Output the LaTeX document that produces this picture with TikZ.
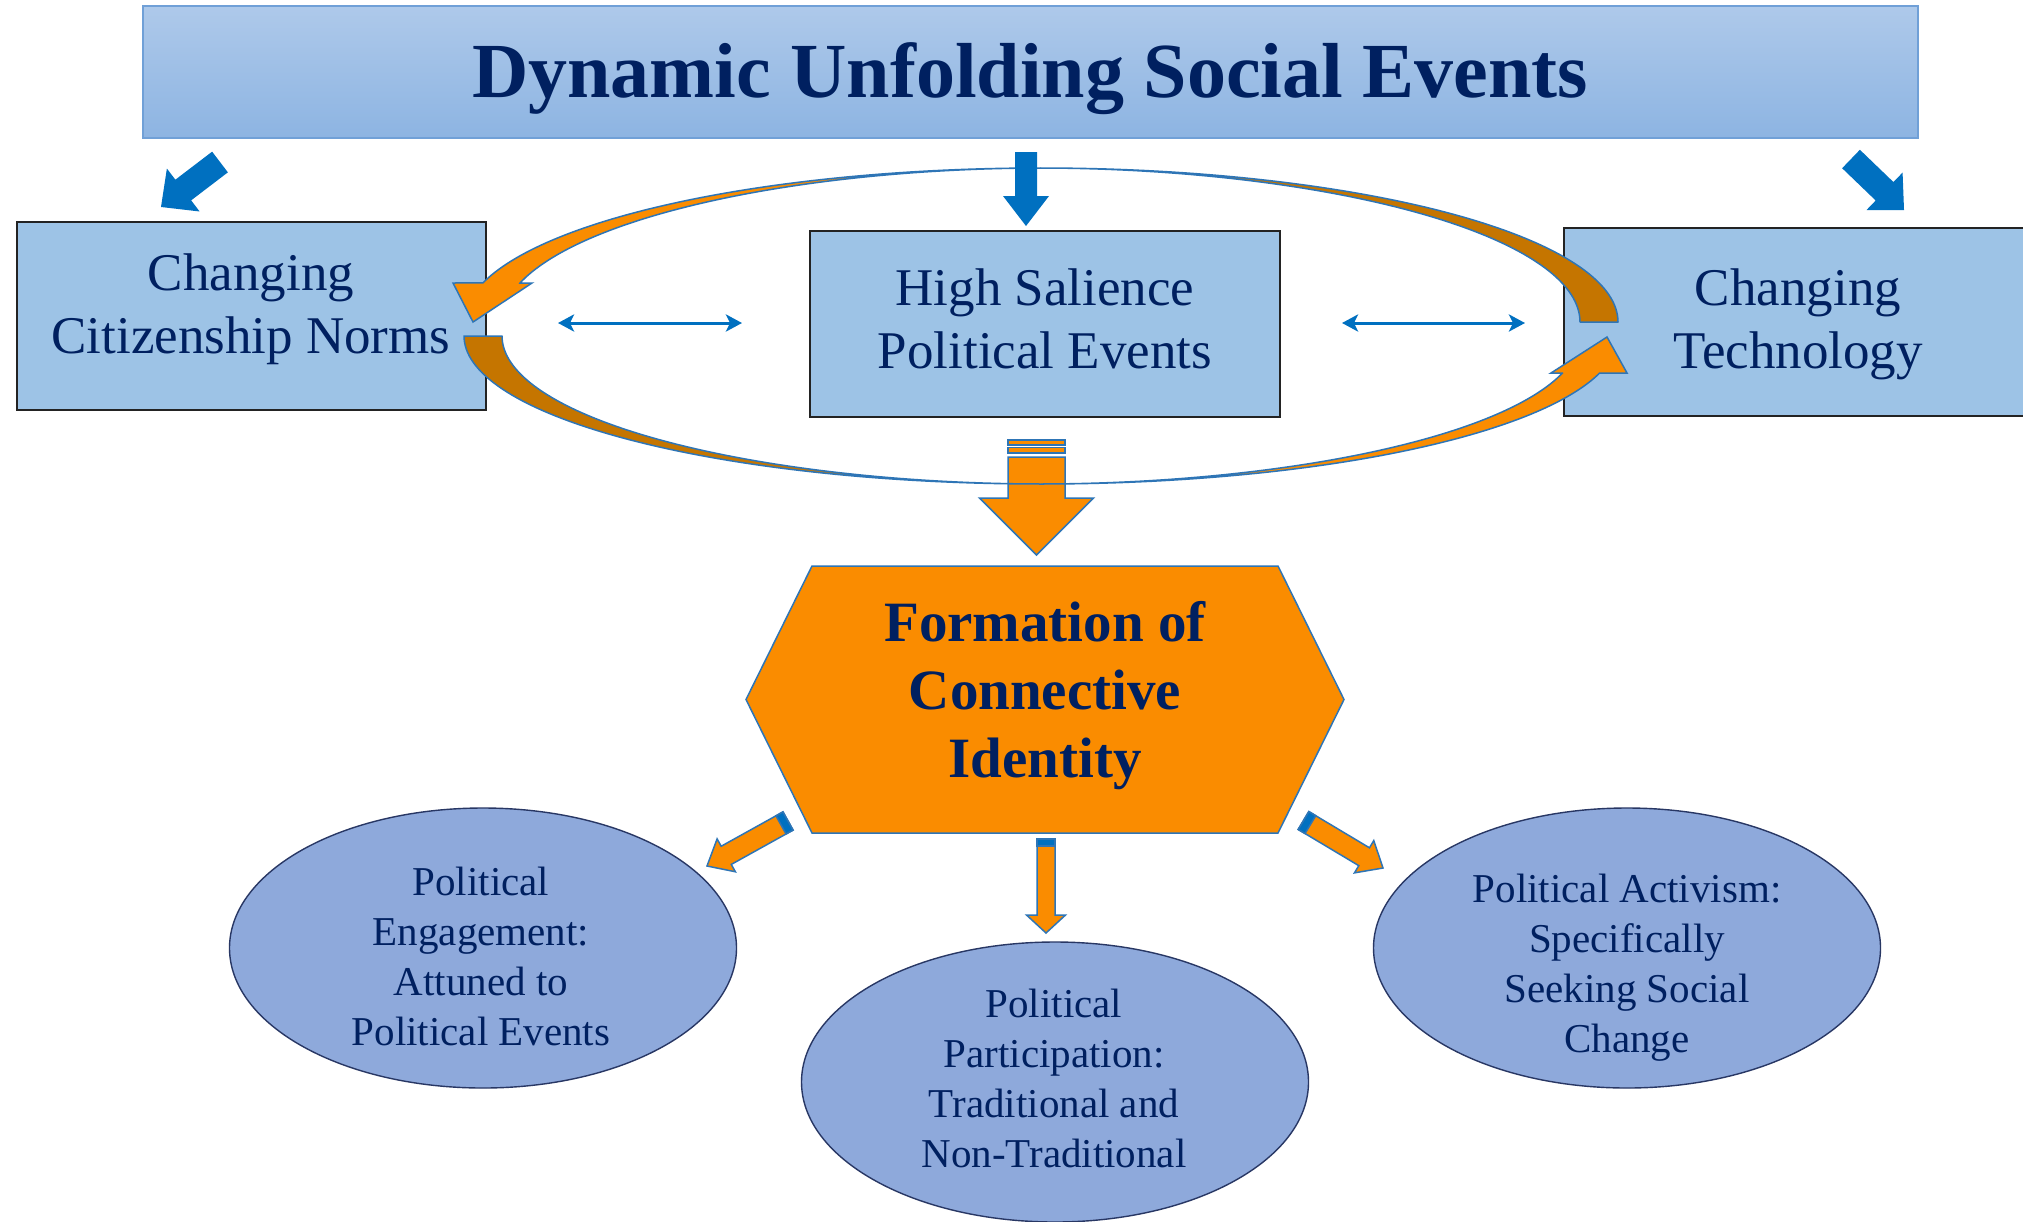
\documentclass[tikz,border=0pt]{standalone}
\usepackage{fontspec}
\setmainfont{Liberation Serif}
\usetikzlibrary{calc,shapes.geometric,arrows.meta}

\definecolor{navy}{RGB}{0,32,96}
\definecolor{boxfill}{RGB}{157,195,230}
\definecolor{boxline}{RGB}{35,35,35}
\definecolor{titletop}{RGB}{174,201,234}
\definecolor{titlebot}{RGB}{141,180,226}
\definecolor{titleline}{RGB}{112,160,215}
\definecolor{blueblock}{RGB}{0,112,192}
\definecolor{orangec}{RGB}{250,140,0}
\definecolor{brownc}{RGB}{197,117,0}
\definecolor{rimblue}{RGB}{46,117,182}
\definecolor{ellfill}{RGB}{142,169,219}
\definecolor{ellline}{RGB}{40,55,100}

% block arrow: tail, tip, shaft half width, head half width, head length, style
\newcommand{\blockarrow}[6]{%
  \coordinate (ba-h) at ($(#2)!#5!(#1)$);
  \path[#6] ($(#1)!#3!90:(#2)$) -- ($(ba-h)!#3!90:(#2)$) -- ($(ba-h)!#4!90:(#2)$) -- (#2)
    -- ($(ba-h)!#4!-90:(#2)$) -- ($(ba-h)!#3!-90:(#2)$) -- ($(#1)!#3!-90:(#2)$) -- cycle;
}
% coloured band at the tail of a block arrow: tail, tip, half width, band length, style
\newcommand{\tailband}[5]{%
  \coordinate (bb-e) at ($(#1)!#4!(#2)$);
  \path[#5] ($(#1)!#3!90:(#2)$) -- ($(bb-e)!#3!90:(#2)$) -- ($(bb-e)!#3!-90:(#2)$)
    -- ($(#1)!#3!-90:(#2)$) -- cycle;
}

\begin{document}
\begin{tikzpicture}[x=0.5pt,y=-0.5pt,
  titlebox/.style={draw=titleline, line width=0.6pt, top color=titletop, bottom color=titlebot,
    minimum width=887.5pt, minimum height=66pt, inner sep=0pt},
  titletext/.style={text=navy, font=\fontsize{39}{46}\selectfont\bfseries, inner sep=0pt},
  boxnode/.style={draw=boxline, line width=1pt, fill=boxfill, inner sep=0pt},
  boxtext/.style={text=navy, align=center, font=\fontsize{26.5}{31.5}\selectfont, inner sep=0pt},
  hexshape/.style={draw=rimblue, line width=0.75pt, fill=orangec, line join=miter},
  hextext/.style={text=navy, align=center, font=\fontsize{28.5}{34}\selectfont\bfseries, inner sep=0pt},
  ellnode/.style={ellipse, draw=ellline, line width=0.7pt, fill=ellfill, inner sep=0pt,
    minimum width=253.5pt, minimum height=140pt},
  elltext/.style={text=navy, align=center, font=\fontsize{20.5}{25}\selectfont, inner sep=0pt},
  bluearrow/.style={fill=blueblock},
  orangearrow/.style={fill=orangec, draw=rimblue, line width=0.75pt, line join=miter},
  stripe/.style={fill=blueblock, draw=rimblue, line width=0.75pt},
  ribbonbrown/.style={fill=brownc, draw=rimblue, line width=0.75pt, line join=round},
  ribbonorange/.style={fill=orangec, draw=rimblue, line width=0.75pt, line join=miter},
  linkarrow/.style={draw=blueblock, line width=1.5pt,
    {Stealth[length=8pt,width=8.5pt,inset=2pt]}-{Stealth[length=8pt,width=8.5pt,inset=2pt]}}
]
\useasboundingbox (0,0) rectangle (2023,1221);
\begin{scope}
\clip (0,0) rectangle (2023,1221);
\fill[white] (0,0) rectangle (2023,1221);

% banner
\node[titlebox] (dyn) at (1030.5,72) {};
\node[titletext] (dynt) at (1030,78.5) {Dynamic Unfolding Social Events};

% three drivers
\node[boxnode, minimum width=234.5pt, minimum height=94pt] (cit) at (251.5,316) {};
\node[boxtext] (citt) at (251,309) {Changing\\Citizenship Norms};
\node[boxnode, minimum width=235pt, minimum height=93pt] (hse) at (1045,324) {};
\node[boxtext] (hset) at (1045,318.5) {High Salience\\Political Events};
\node[boxnode, minimum width=238pt, minimum height=94pt] (tec) at (1802,322) {};
\node[boxtext] (tect) at (1798,324) {Changing\\Technology};

% striped arrow down into the hexagon
\draw[orangearrow] (1008,440) rectangle (1065,445);
\draw[orangearrow] (1008,447.5) rectangle (1065,453);
\coordinate (dn0) at (1036.5,457);
\coordinate (dn1) at (1036.5,555);
\blockarrow{dn0}{dn1}{14.25pt}{28.5pt}{28.5pt}{orangearrow}

% upper curved arrow: brown back face, then orange front face with head
\path[ribbonbrown]
  plot[domain=270:360, samples=70, variable=\t] ({1041+577*cos(\t)},{322+154*sin(\t)})
  -- plot[domain=360:270, samples=70, variable=\t]
     ({1041+577*cos(\t)-38*(abs(cos(\t))+0.0001)^0.7},{322+154*sin(\t)})
  -- cycle;
\path[ribbonorange]
  plot[domain=270:194.7, samples=70, variable=\t] ({1041+577*cos(\t)},{322+154*sin(\t)})
  -- (453,283) -- (473,322) -- (532,283) -- (520,283)
  -- plot[domain=194.7:270, samples=70, variable=\t]
     ({1041+577*cos(\t)+38*(abs(cos(\t))+0.0001)^0.7},{322+154*sin(\t)})
  -- cycle;

% lower curved arrow
\path[ribbonbrown]
  plot[domain=180:90, samples=70, variable=\t] ({1041+577*cos(\t)},{336+148*sin(\t)})
  -- plot[domain=90:180, samples=70, variable=\t]
     ({1041+577*cos(\t)+38*(abs(cos(\t))+0.0001)^0.7},{336+148*sin(\t)})
  -- cycle;
\path[ribbonorange]
  plot[domain=90:14.5, samples=70, variable=\t] ({1041+577*cos(\t)},{336+148*sin(\t)})
  -- (1627,373) -- (1607,337) -- (1551,373) -- (1562.4,373)
  -- plot[domain=14.5:90, samples=70, variable=\t]
     ({1041+577*cos(\t)-38*(abs(cos(\t))+0.0001)^0.7},{336+148*sin(\t)})
  -- cycle;

% blue block arrows from the banner
\coordinate (bl0) at (220,162);
\coordinate (bl1) at (161,207);
\blockarrow{bl0}{bl1}{6.5pt}{13.5pt}{14pt}{bluearrow}
\coordinate (bm0) at (1026,152);
\coordinate (bm1) at (1026,226);
\blockarrow{bm0}{bm1}{5.5pt}{11.5pt}{15pt}{bluearrow}
\coordinate (br0) at (1851,159);
\coordinate (br1) at (1904,210);
\blockarrow{br0}{br1}{6.4pt}{13pt}{13.5pt}{bluearrow}

% two-way links between the drivers
\coordinate (la) at (558,323);
\coordinate (lb) at (742,323);
\coordinate (ra) at (1342,323);
\coordinate (rb) at (1525,323);
\draw[linkarrow] (la) -- (lb);
\draw[linkarrow] (ra) -- (rb);

% central hexagon
\draw[hexshape] (812,566) -- (1278,566) -- (1344,699.5) -- (1278,833) -- (812,833) -- (746,699.5) -- cycle;
\node[hextext] (fci) at (1045,695.5) {Formation of\\Connective\\Identity};

% arrows to the outcomes
\coordinate (ol0) at (788,821);
\coordinate (ol1) at (707,866);
\blockarrow{ol0}{ol1}{5.2pt}{9.4pt}{11pt}{orangearrow}
\tailband{ol0}{ol1}{5.2pt}{4pt}{stripe}
\coordinate (om0) at (1046,839);
\coordinate (om1) at (1046,933);
\blockarrow{om0}{om1}{4.5pt}{9.75pt}{9pt}{orangearrow}
\tailband{om0}{om1}{4.5pt}{3.5pt}{stripe}
\coordinate (or0) at (1303.5,820.5);
\coordinate (or1) at (1383,868);
\blockarrow{or0}{or1}{5.2pt}{9.4pt}{11pt}{orangearrow}
\tailband{or0}{or1}{5.2pt}{4pt}{stripe}

% outcomes
\node[ellnode] (pe) at (483,948) {};
\node[elltext] (pet) at (481,956) {Political\\Engagement:\\Attuned to\\Political Events};
\node[ellnode] (pp) at (1055,1082) {};
\node[elltext] (ppt) at (1054,1078.5) {Political\\Participation:\\Traditional and\\Non-Traditional};
\node[ellnode] (pa) at (1627,948) {};
\node[elltext] (pat) at (1627,968) {Political Activism:\\Specifically\\Seeking Social\\Change};
\end{scope}
\end{tikzpicture}
\end{document}
